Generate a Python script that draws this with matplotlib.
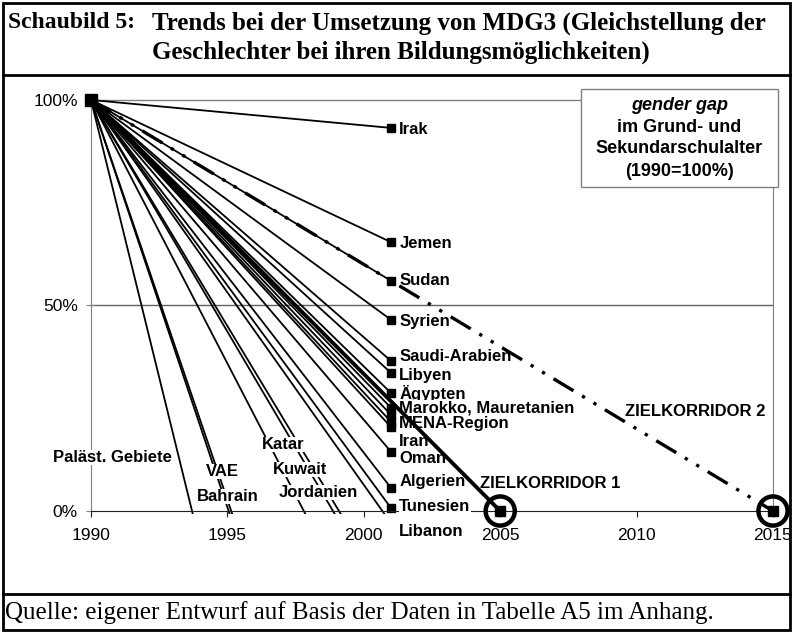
import matplotlib.pyplot as plt
from matplotlib.lines import Line2D
from matplotlib.patches import Rectangle

# data: gender gap 1990 = 100 %, value reached in 2001 (negative = crossed 0 earlier)
countries = ['Irak', 'Jemen', 'Sudan', 'Syrien', 'Saudi-Arabien', 'Libyen',
             'Ägypten', 'Marokko', 'Mauretanien', 'MENA-Region', 'Iran', 'Oman',
             'Algerien', 'Tunesien', 'Libanon', 'Paläst. Gebiete', 'VAE',
             'Bahrain', 'Katar', 'Kuwait', 'Jordanien']
gap_2001 = [93.2, 65.4, 56.0, 46.5, 36.5, 33.6,
            28.7, 25.1, 23.4, 21.7, 20.4, 14.4,
            5.6, 0.7, -3.0, -197.0, -118.0,
            -114.0, -41.0, -24.0, -21.0]
start_year, end_year = 1990, 2001
target_years = [2005, 2015]
target_names = ['ZIELKORRIDOR 1', 'ZIELKORRIDOR 2']

W, H = 793, 633
fig = plt.figure(figsize=(W / 100, H / 100), dpi=100)

def px(x, y):
    return x / W, 1 - y / H

# frame around the whole figure
fig.add_artist(Rectangle(px(3, 630), 787 / W, 627 / H, transform=fig.transFigure,
                         fill=False, lw=2, edgecolor='black'))
for yy in (75, 594):
    fig.add_artist(Line2D([3 / W, 790 / W], [1 - yy / H] * 2, transform=fig.transFigure,
                          color='black', lw=2))

serif = 'Liberation Serif'
fig.text(*px(8, 23), 'Schaubild 5:', family=serif, weight='bold', size=17, va='center')
fig.text(*px(152, 23), 'Trends bei der Umsetzung von MDG3 (Gleichstellung der',
         family=serif, weight='bold', size=18, va='center')
fig.text(*px(152, 52), 'Geschlechter bei ihren Bildungsmöglichkeiten)',
         family=serif, weight='bold', size=18, va='center')
fig.text(*px(5, 613), 'Quelle: eigener Entwurf auf Basis der Daten in Tabelle A5 im Anhang.',
         family=serif, size=18, va='center')

ax = fig.add_axes([91 / W, 1 - 514.3 / H, 682 / W, 416.8 / H])
ax.set_xlim(1990, 2015)
ax.set_ylim(-0.8, 100.6)

sans = 'Liberation Sans'
grey = '#808080'
ax.spines['top'].set_visible(False)
ax.spines['left'].set_bounds(0, 100)
ax.spines['right'].set_bounds(0, 100)
ax.spines['left'].set_color(grey)
ax.spines['right'].set_color(grey)
ax.spines['bottom'].set_position(('data', 0))
ax.spines['bottom'].set_color('#202020')
ax.axhline(50, color='#606060', lw=1, zorder=1)
ax.axhline(100, color=grey, lw=1, zorder=1)

ax.set_yticks([0, 50, 100], ['0%', '50%', '100%'])
ax.set_xticks(range(1990, 2016, 5))
ax.tick_params(axis='y', direction='inout', length=7, pad=6, labelsize=12.5, color=grey)
ax.tick_params(axis='x', direction='out', length=4, pad=8, labelsize=12.5, color='#202020')
for lab in ax.get_xticklabels() + ax.get_yticklabels():
    lab.set_family(sans)

# country lines
for name, v in zip(countries, gap_2001):
    ax.plot([start_year, end_year], [100, v], color='black', lw=1.3, zorder=2,
            solid_capstyle='butt')
    if v >= 0:
        ax.plot(end_year, v, 's', color='black', ms=6, zorder=2)
ax.plot(start_year, 100, 's', color='black', ms=8, clip_on=False, zorder=5)

# target corridors
ax.plot([start_year, target_years[0]], [100, 0], color='black', lw=2.8, zorder=4)
ax.plot([start_year, target_years[1]], [100, 0], color='black', lw=2.4, zorder=4,
        linestyle=(0, (7, 3, 1, 3, 1, 3)))
ax.plot(target_years, [0, 0], 's', color='black', ms=7, zorder=5, clip_on=False)
ax.scatter(target_years, [0, 0], s=440, facecolors='none', edgecolors='black',
           linewidths=3.2, zorder=5, clip_on=False)

# labels
lab_kw = dict(family=sans, weight='bold', size=12, va='center', zorder=3,
              bbox=dict(facecolor='white', edgecolor='none', pad=0))
right_labels = [('Irak', 92.7), ('Jemen', 65.0), ('Sudan', 56.0), ('Syrien', 46.0),
                ('Saudi-Arabien', 37.5), ('Libyen', 33.0), ('Ägypten', 28.7),
                ('Marokko, Mauretanien', 25.1), ('MENA-Region', 21.2), ('Iran', 17.0),
                ('Oman', 12.7), ('Algerien', 7.3), ('Tunesien', 1.0), ('Libanon', -4.9)]
for name, ly in right_labels:
    ax.text(2001.3, ly, name, ha='left', clip_on=False, **lab_kw)

ax.text(1988.6, 13.1, 'Paläst. Gebiete', ha='left', clip_on=False, **lab_kw)
ax.text(1994.8, 9.7, 'VAE', ha='center', **lab_kw)
ax.text(1995.0, 3.6, 'Bahrain', ha='center', **lab_kw)
ax.text(1997.05, 16.3, 'Katar', ha='center', **lab_kw)
ax.text(1997.66, 10.2, 'Kuwait', ha='center', **lab_kw)
ax.text(1998.32, 4.6, 'Jordanien', ha='center', **lab_kw)
ax.text(2004.26, 6.8, target_names[0], ha='left', **lab_kw)
ax.text(2009.57, 24.3, target_names[1], ha='left', **lab_kw)

# info box
box_x0, box_y0, box_x1, box_y1 = 581, 89, 778, 187
fig.add_artist(Rectangle(px(box_x0, box_y1), (box_x1 - box_x0) / W, (box_y1 - box_y0) / H,
                         transform=fig.transFigure, facecolor='white', edgecolor=grey,
                         lw=1, zorder=6))
cx = (box_x0 + box_x1) / 2 / W
box_lines = [('gender gap', 'italic', 105), ('im Grund- und', 'normal', 127),
             ('Sekundarschulalter', 'normal', 149), ('(1990=100%)', 'normal', 171)]
for txt, style, yy in box_lines:
    fig.text(cx, 1 - yy / H, txt, ha='center', va='center', family=sans, weight='bold',
             style=style, size=13, zorder=7)

fig.savefig('out.png', dpi=100)
